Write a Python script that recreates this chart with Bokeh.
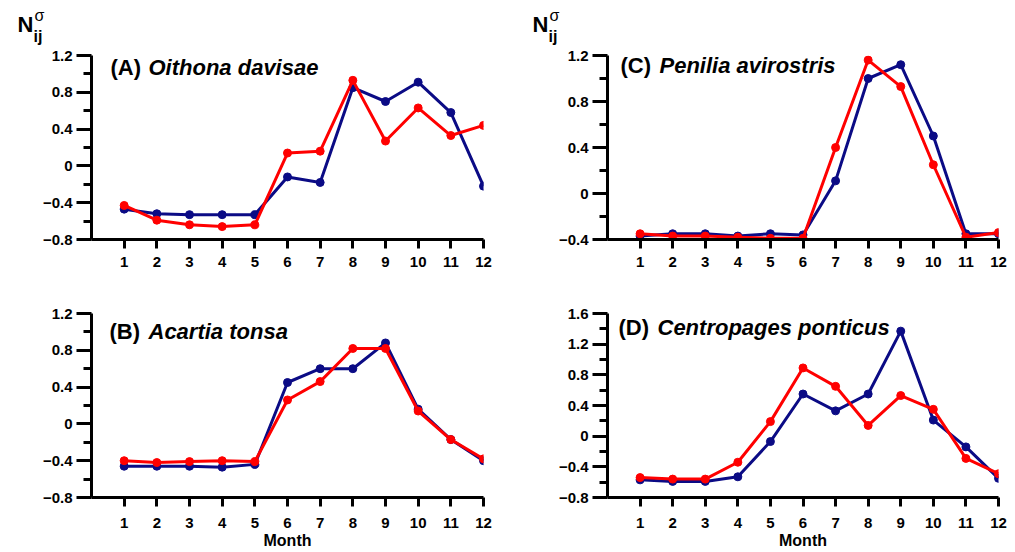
from bokeh.plotting import figure
from bokeh.layouts import column, row
from bokeh.models import Range1d, FixedTicker, CustomJSTickFormatter, Label, LinearAxis
from bokeh.embed import file_html
from bokeh.resources import INLINE

months = [1, 2, 3, 4, 5, 6, 7, 8, 9, 10, 11, 12]

a_blue = [-0.47, -0.52, -0.53, -0.53, -0.53, -0.12, -0.18, 0.85, 0.70, 0.91, 0.58, -0.22]
a_red = [-0.43, -0.59, -0.64, -0.66, -0.64, 0.14, 0.16, 0.93, 0.27, 0.63, 0.33, 0.44]
b_blue = [-0.46, -0.46, -0.46, -0.47, -0.44, 0.45, 0.60, 0.60, 0.88, 0.16, -0.17, -0.40]
b_red = [-0.40, -0.42, -0.41, -0.40, -0.41, 0.26, 0.46, 0.82, 0.82, 0.14, -0.17, -0.38]
c_blue = [-0.37, -0.35, -0.35, -0.37, -0.35, -0.36, 0.11, 1.00, 1.12, 0.50, -0.35, -0.35]
c_red = [-0.35, -0.37, -0.37, -0.38, -0.39, -0.39, 0.40, 1.16, 0.93, 0.25, -0.38, -0.34]
d_blue = [-0.57, -0.59, -0.59, -0.53, -0.07, 0.55, 0.33, 0.55, 1.37, 0.21, -0.14, -0.55]
d_red = [-0.54, -0.56, -0.56, -0.34, 0.19, 0.89, 0.65, 0.14, 0.53, 0.35, -0.29, -0.49]

a_ticks = [-0.8, -0.4, 0.0, 0.4, 0.8, 1.2]
b_ticks = [-0.8, -0.4, 0.0, 0.4, 0.8, 1.2]
c_ticks = [-0.4, 0.0, 0.4, 0.8, 1.2]
d_ticks = [-0.8, -0.4, 0.0, 0.4, 0.8, 1.2, 1.6]

tags = ["(A)", "(B)", "(C)", "(D)"]
species = ["Oithona davisae", "Acartia tonsa", "Penilia avirostris", "Centropages ponticus"]
x_label = "Month"
y_main, y_sub, y_sup = "N", "ij", "\u03c3"

FONT = "Liberation Sans"
BLUE = "#0b0b85"
RED = "#ff0000"


def lab(text, x, y, size, style, align="left"):
    return Label(x=x, y=y, x_units="screen", y_units="screen", text=text,
                 text_font=FONT, text_font_style=style, text_font_size=size,
                 text_color="black", text_align=align, text_baseline="alphabetic")


def header(width, height, nx):
    h = figure(width=width, height=height, output_backend="svg", toolbar_location=None,
               title=None, x_range=Range1d(0, 1), y_range=Range1d(0, 1),
               x_axis_type=None, y_axis_type=None,
               min_border_left=0, min_border_right=0, min_border_top=0, min_border_bottom=0)
    h.outline_line_color = None
    h.xgrid.visible = False
    h.ygrid.visible = False
    h.add_layout(lab(y_main, nx, height - 24, "22px", "bold"))
    h.add_layout(lab(y_sub, nx + 16, height - 36, "16px", "bold"))
    h.add_layout(lab(y_sup, nx + 17, height - 15, "16px", "normal"))
    return h


def make_panel(tag, name, blue, red, yticks, width, height, bl, br, bt, bb,
               tag_x, name_x, title_y, show_month, label_standoff):
    ymin, ymax = yticks[0], yticks[-1]
    minor = []
    for i in range(len(yticks) - 1):
        minor.append(round((yticks[i] + yticks[i + 1]) / 2, 2))
    p = figure(width=width, height=height, output_backend="svg", toolbar_location=None,
               x_range=Range1d(0, 12), y_range=Range1d(ymin, ymax),
               x_axis_type=None, y_axis_type=None,
               min_border_left=bl, min_border_right=br, min_border_top=bt, min_border_bottom=bb)
    p.outline_line_color = None
    p.xgrid.visible = False
    p.ygrid.visible = False

    fmt = CustomJSTickFormatter(code="""
        if (Math.abs(tick) < 1e-9) return "0";
        return (tick < 0 ? "\\u2212" : "") + Math.abs(tick).toFixed(1);
    """)
    yax = LinearAxis(ticker=FixedTicker(ticks=yticks, minor_ticks=minor), formatter=fmt)
    yax.axis_line_width = 3
    yax.axis_line_color = "black"
    yax.major_tick_in = 0
    yax.major_tick_out = 15
    yax.minor_tick_in = 0
    yax.minor_tick_out = 8
    yax.major_tick_line_width = 3
    yax.minor_tick_line_width = 3
    yax.major_label_standoff = 4
    yax.major_label_text_font = FONT
    yax.major_label_text_font_style = "bold"
    yax.major_label_text_font_size = "15px"
    yax.major_label_text_color = "black"
    p.add_layout(yax, "left")

    xax = LinearAxis(ticker=FixedTicker(ticks=months, minor_ticks=[]))
    xax.axis_line_width = 3
    xax.axis_line_color = "black"
    xax.major_tick_in = 0
    xax.major_tick_out = 9
    xax.major_tick_line_width = 3
    xax.minor_tick_line_color = None
    xax.major_label_standoff = label_standoff
    xax.major_label_text_font = FONT
    xax.major_label_text_font_style = "bold"
    xax.major_label_text_font_size = "15px"
    xax.major_label_text_color = "black"
    if show_month:
        xax.axis_label = x_label
        xax.axis_label_standoff = 1
        xax.axis_label_text_font = FONT
        xax.axis_label_text_font_style = "bold"
        xax.axis_label_text_font_size = "16px"
        xax.axis_label_text_color = "black"
    p.add_layout(xax, "below")

    p.line(months, blue, line_color=BLUE, line_width=3)
    p.scatter(months, blue, size=8, fill_color=BLUE, line_color=BLUE)
    p.line(months, red, line_color=RED, line_width=3)
    p.scatter(months, red, size=8, fill_color=RED, line_color=RED)

    p.add_layout(lab(tag, tag_x, title_y, "22px", "bold"))
    p.add_layout(lab(name, name_x, title_y, "22px", "bold italic"))
    return p


ha = header(500, 48, 17)
hc = header(514, 48, 32)
pa = make_panel(tags[0], species[0], a_blue, a_red, a_ticks, 500, 232, 91, 17, 7, 41,
                19, 57, 172, False, 8)
pc = make_panel(tags[2], species[2], c_blue, c_red, c_ticks, 514, 232, 107, 16, 7, 41,
                13, 52, 174, False, 8)
pb = make_panel(tags[1], species[1], b_blue, b_red, b_ticks, 500, 271, 91, 17, 33, 52,
                18, 57, 166, True, 11)
pd = make_panel(tags[3], species[3], d_blue, d_red, d_ticks, 514, 271, 107, 16, 33, 52,
                11, 50, 170, True, 11)

layout = column(row(ha, hc), row(pa, pc), row(pb, pd))

with open("out.html", "w") as f:
    f.write(file_html(layout, INLINE))
